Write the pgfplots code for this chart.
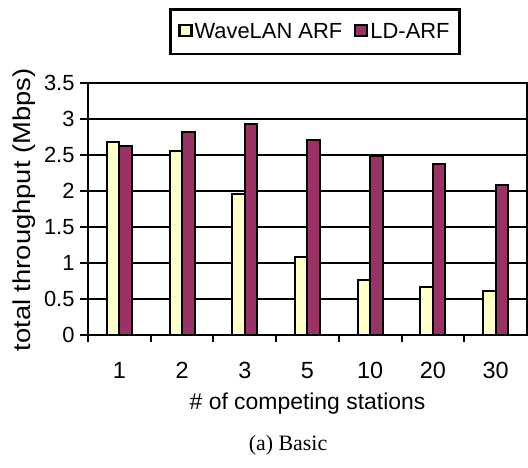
\documentclass[border=0pt]{standalone}
\usepackage{fontspec}
\setmainfont{Liberation Sans}
\newfontfamily\capfont{Liberation Serif}
\newfontfamily\ylabfont{Liberation Sans}[FakeStretch=1.12]
\usepackage{pgfplots}
\pgfplotsset{compat=1.18}
\definecolor{wave}{HTML}{FFFFCC}
\definecolor{ld}{HTML}{993366}
\begin{document}
\begin{tikzpicture}
\useasboundingbox (-88bp,-133bp) rectangle (440bp,335bp);
\begin{axis}[
  at={(0,0)}, anchor=south west,
  scale only axis, width=439bp, height=252bp,
  ymin=0, ymax=3.5, ytick={0,0.5,...,3.5},
  yticklabels={0,0.5,1,1.5,2,2.5,3,3.5},
  xmin=-0.5, xmax=6.5,
  xtick={0,...,6}, xticklabels={1,2,3,5,10,20,30},
  minor xtick={-0.5,0.5,...,5.5},
  major x tick style={draw=none},
  tick align=outside, xtick pos=bottom, ytick pos=left,
  tick style={black, line width=2bp},
  major tick length=8bp, minor tick length=7bp,
  ymajorgrids, grid style={black, line width=2.5bp},
  axis line style={line width=2.5bp},
  /pgf/number format/assume math mode=true,
  yticklabel style={font=\fontsize{22}{26}\selectfont, xshift=-2bp},
  xticklabel style={font=\fontsize{23.5}{27}\selectfont, yshift=-16bp},
  xlabel={\# of competing stations},
  xlabel style={font=\fontsize{23}{27}\selectfont, at={(axis description cs:0.5,0)}, anchor=center, yshift=-69bp},
  ylabel={total throughput (Mbps)},
  ylabel style={font=\ylabfont\fontsize{24.5}{28}\selectfont, at={(axis description cs:-0.1447,0.496)}, anchor=center},
  ybar=0pt, bar width=12.5bp,
  legend columns=2,
  legend style={at={(0.517,1.203)}, anchor=center, draw=black, line width=2.5bp,
    font=\fontsize{22}{26}\selectfont, inner xsep=8bp, inner ysep=12bp,
    /tikz/every even column/.append style={column sep=10bp}},
  legend image code/.code={\draw[#1, line width=2.2bp] (0bp,-4bp) rectangle (12bp,7bp);},
]
\addplot[fill=wave, draw=black, line width=2bp] coordinates {(0,2.68) (1,2.55) (2,1.96) (3,1.09) (4,0.77) (5,0.66) (6,0.61)};
\addplot[fill=ld, draw=black, line width=2bp] coordinates {(0,2.63) (1,2.82) (2,2.93) (3,2.71) (4,2.49) (5,2.37) (6,2.09)};
\legend{WaveLAN ARF, LD-ARF}
\end{axis}
\node[font=\capfont\fontsize{22}{24}\selectfont] at (200bp,-110bp) {(a) Basic};
\end{tikzpicture}
\end{document}
